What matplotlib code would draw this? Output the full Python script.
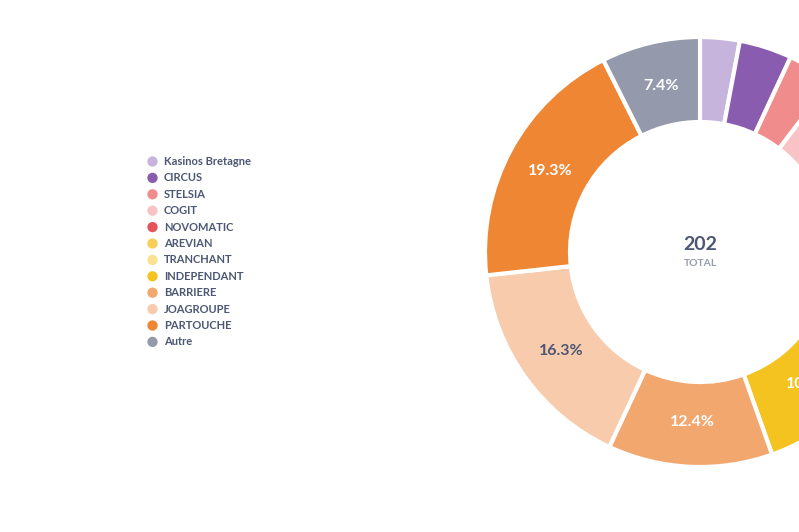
import matplotlib.pyplot as plt
import numpy as np

plt.rcParams['font.family'] = ['Lato', 'DejaVu Sans']

# data (total 202)
names = ['Kasinos Bretagne', 'CIRCUS', 'STELSIA', 'COGIT', 'NOVOMATIC', 'AREVIAN',
         'TRANCHANT', 'INDEPENDANT', 'BARRIERE', 'JOAGROUPE', 'PARTOUCHE', 'Autre']
counts = [6, 8, 7, 8, 12, 15, 12, 22, 25, 33, 39, 15]
colors = ['#c7b4dc', '#8a5cb0', '#f08c8c', '#f7c3c4', '#e5535b', '#f8cd58',
          '#fde192', '#f5c320', '#f2a76f', '#f7cbab', '#ee8633', '#949aac']
# slices whose labels can be seen in the picture
labelled = ['INDEPENDANT', 'BARRIERE', 'JOAGROUPE', 'PARTOUCHE', 'Autre']
dark_labels = ['JOAGROUPE']

text_col = '#4c5773'
total = sum(counts)

fig = plt.figure(figsize=(7.99, 5.32), dpi=100)
ax = fig.add_axes([0, 0, 1, 1])
ax.axis('off')

H = 532
cx, cy = 700, H - 252
R = 215

wedges, texts = ax.pie(
    counts, colors=colors, startangle=90, counterclock=False,
    center=(cx, cy), radius=R,
    wedgeprops=dict(width=85, edgecolor='white', linewidth=3))
ax.set_xlim(0, 799)
ax.set_ylim(0, 532)
ax.set_aspect('equal')

# percentage labels at the middle of the ring
for name, w, n in zip(names, wedges, counts):
    if name not in labelled:
        continue
    ang = np.deg2rad((w.theta1 + w.theta2) / 2)
    r = R - 85 / 2 - 2
    col = text_col if name in dark_labels else 'white'
    ax.text(cx + r * np.cos(ang), cy + r * np.sin(ang), f'{n / total * 100:.1f}%',
            ha='center', va='center', fontsize=11.5, fontweight='bold', color=col)

ax.text(cx, H - 245, str(total), ha='center', va='center', fontsize=14,
        fontweight='bold', color=text_col)
ax.text(cx, H - 263, 'TOTAL', ha='center', va='center', fontsize=7.5,
        fontweight='bold', color='#949aac')

# legend
for i, (name, c) in enumerate(zip(names, colors)):
    y = H - (161.5 + i * 16.4)
    ax.scatter([152.5], [y], s=55, color=c, edgecolors='none')
    ax.text(164, y, name, ha='left', va='center', fontsize=8,
            fontweight='bold', color=text_col)

fig.savefig('out.png', dpi=100)
